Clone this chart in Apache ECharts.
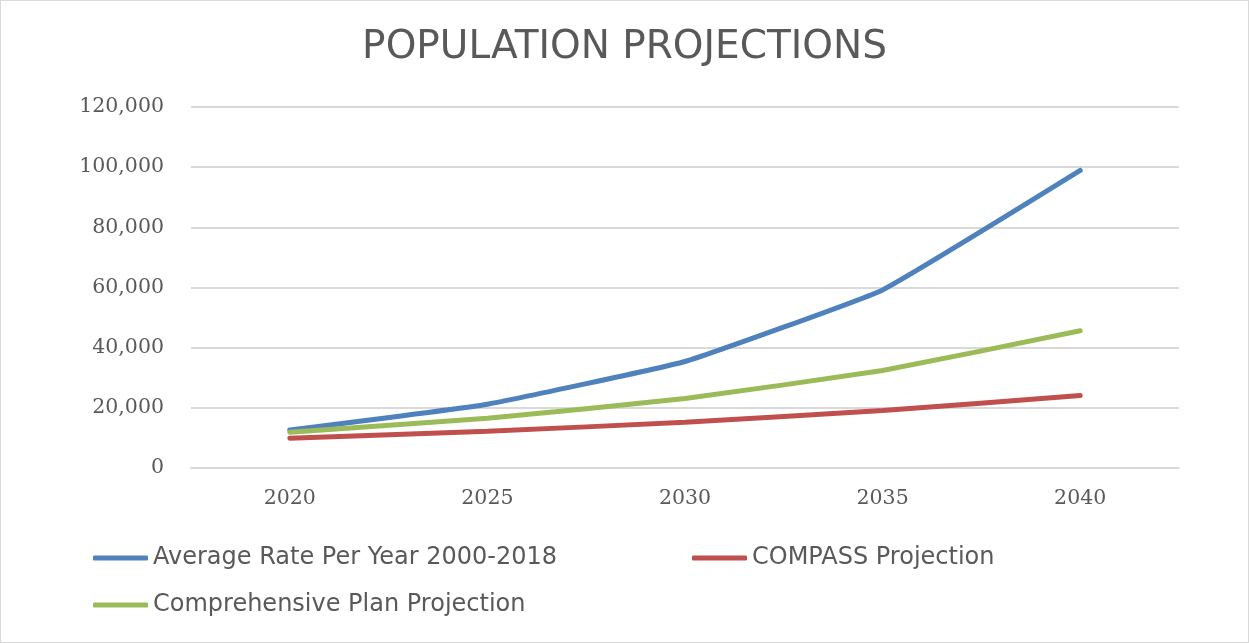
<!DOCTYPE html>
<html lang="en">
<head>
    <meta charset="UTF-8">
    <title>Population Projections</title>
    <script src="https://cdn.jsdelivr.net/npm/echarts@6/dist/echarts.min.js"></script>
    <style>
        html, body { margin: 0; padding: 0; background: #fff; }
        #chart { width: 1247px; height: 641px; border: 1px solid #d9d9d9; }
    </style>
</head>
<body>
<div id="chart"></div>
<script type="text/javascript">
    // data
    var years = ['2020', '2025', '2030', '2035', '2040'];
    var averageRate = [12600, 21200, 35400, 59200, 98900];
    var compass = [9900, 12200, 15200, 19100, 24100];
    var comprehensive = [11900, 16500, 23100, 32400, 45600];
    var yTicks = [0, 20000, 40000, 60000, 80000, 100000, 120000];

    var names = ['Average Rate Per Year 2000-2018', 'COMPASS Projection', 'Comprehensive Plan Projection'];
    var colors = ['#4F81BD', '#C0504D', '#9BBB59'];

    var chart = echarts.init(document.getElementById('chart'));

    var legendText = { fontFamily: 'DejaVu Sans', fontSize: 24, color: '#595959', lineHeight: 28 };

    function lineSeries(name, data, color) {
        return {
            name: name,
            type: 'line',
            data: data,
            smooth: 0.1,
            showSymbol: false,
            symbol: 'none',
            color: color,
            lineStyle: { width: 5, color: color, cap: 'round' }
        };
    }

    var option = {
        animation: false,
        title: {
            text: 'POPULATION PROJECTIONS',
            left: 'center',
            top: 22,
            textStyle: { fontFamily: 'DejaVu Sans', fontSize: 39, fontWeight: 'normal', color: '#595959' }
        },
        legend: [
            {
                data: [names[0], names[2]],
                orient: 'vertical',
                left: 92,
                top: 543,
                padding: 0,
                itemGap: 19,
                itemWidth: 55,
                itemHeight: 5,
                icon: 'roundRect',
                textStyle: legendText
            },
            {
                data: [names[1]],
                left: 691,
                top: 543,
                padding: 0,
                itemWidth: 55,
                itemHeight: 5,
                icon: 'roundRect',
                textStyle: legendText
            }
        ],
        grid: { left: 190, right: 69, top: 106, bottom: 174 },
        xAxis: {
            type: 'category',
            data: years,
            boundaryGap: true,
            axisLine: { lineStyle: { color: '#d9d9d9', width: 2 } },
            axisTick: { show: false },
            axisLabel: { fontFamily: 'DejaVu Serif', fontSize: 20.5, color: '#595959', margin: 20 }
        },
        yAxis: {
            type: 'value',
            min: yTicks[0],
            max: yTicks[yTicks.length - 1],
            interval: yTicks[1] - yTicks[0],
            axisLine: { show: false },
            axisTick: { show: false },
            splitLine: { lineStyle: { color: '#d9d9d9', width: 2 } },
            axisLabel: {
                fontFamily: 'DejaVu Serif', fontSize: 20.5, color: '#595959', margin: 27,
                formatter: function (v) { return v.toLocaleString('en-US'); }
            }
        },
        series: [
            lineSeries(names[0], averageRate, colors[0]),
            lineSeries(names[1], compass, colors[1]),
            lineSeries(names[2], comprehensive, colors[2])
        ]
    };

    chart.setOption(option);
</script>
</body>
</html>
